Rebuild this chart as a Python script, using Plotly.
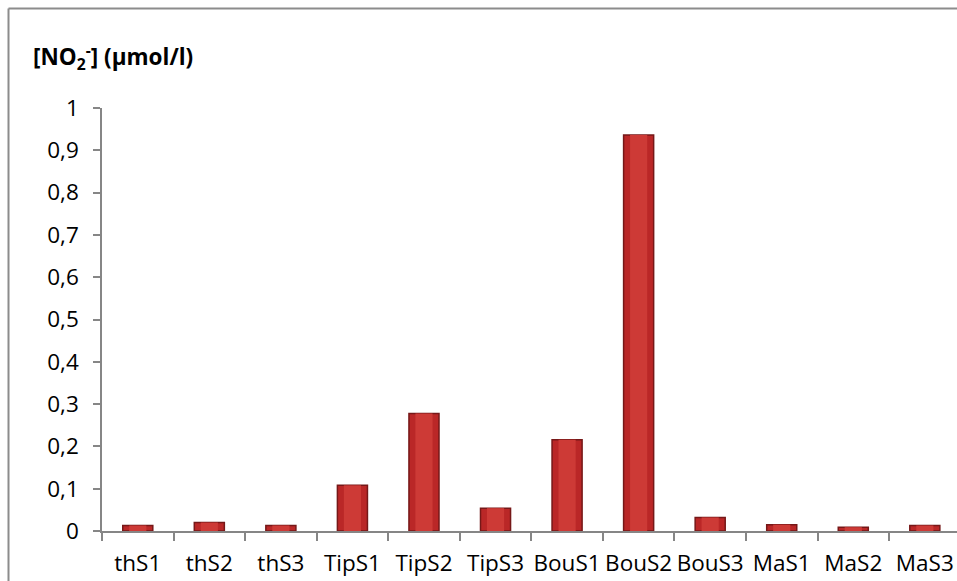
import plotly.graph_objects as go

categories = ["thS1", "thS2", "thS3", "TipS1", "TipS2", "TipS3",
              "BouS1", "BouS2", "BouS3", "MaS1", "MaS2", "MaS3"]
no2_values = [0.013, 0.020, 0.013, 0.108, 0.278, 0.054,
              0.216, 0.936, 0.032, 0.015, 0.009, 0.013]
y_tick_values = [0, 0.1, 0.2, 0.3, 0.4, 0.5, 0.6, 0.7, 0.8, 0.9, 1]
y_tick_labels = ["0", "0,1", "0,2", "0,3", "0,4", "0,5", "0,6", "0,7", "0,8", "0,9", "1"]
title_text = "<b>[NO<sub>2</sub><sup>-</sup>] (µmol/l)</b>"

FONT = "Open Sans"
FS = 22.5

fig = go.Figure()
fig.add_trace(go.Bar(
    x=categories, y=no2_values, width=0.42,
    marker=dict(color="#BA2727", line=dict(color="#761818", width=1.5)),
    hoverinfo="skip", showlegend=False,
))
fig.add_trace(go.Bar(
    x=categories, y=no2_values, width=0.24,
    marker=dict(color="#CD3A36", line=dict(width=0)),
    hoverinfo="skip", showlegend=False,
))

W, H = 957, 581
L, R, T, B = 102, 0, 108, 50
pw, ph = W - L - R, H - T - B

fig.update_layout(
    width=W, height=H,
    margin=dict(l=L, r=R, t=T, b=B, pad=0),
    paper_bgcolor="white", plot_bgcolor="white",
    barmode="overlay",
    font=dict(family=FONT, size=FS, color="black"),
    xaxis=dict(
        range=[-0.5, (pw / 71.55) - 0.5],
        showgrid=False, showline=True, linecolor="#868686", linewidth=1.5,
        ticks="outside", ticklen=8, tickcolor="#868686", tickwidth=1.5,
        tickson="boundaries", tickangle=0, ticklabelstandoff=11,
        tickfont=dict(size=FS, family=FONT),
        fixedrange=True,
    ),
    yaxis=dict(
        range=[0, 1], tickvals=y_tick_values, ticktext=y_tick_labels,
        showgrid=False, showline=True, linecolor="#868686", linewidth=1.5,
        ticks="outside", ticklen=7, tickcolor="#868686", tickwidth=1.5,
        ticklabelstandoff=10,
        tickfont=dict(size=FS, family=FONT), zeroline=False,
        fixedrange=True,
    ),
    annotations=[dict(
        text=title_text, xref="paper", yref="paper",
        x=(31 - L) / pw, y=(H - B - 57) / ph, xanchor="left", yanchor="middle",
        showarrow=False, font=dict(size=FS, family=FONT, color="black"),
    )],
    shapes=[
        dict(type="line", xref="paper", yref="paper",
             x0=(8.5 - L) / pw, x1=(8.5 - L) / pw, y0=-1, y1=(H - B - 8.5) / ph,
             line=dict(color="#8C8C8C", width=2)),
        dict(type="line", xref="paper", yref="paper",
             x0=(8.5 - L) / pw, x1=1.2, y0=(H - B - 8.5) / ph, y1=(H - B - 8.5) / ph,
             line=dict(color="#8C8C8C", width=2)),
    ],
)

fig.write_html(
    "out.html",
    config={"displayModeBar": False},
    post_script="document.body.style.margin='0';document.body.style.overflow='hidden';",
)
